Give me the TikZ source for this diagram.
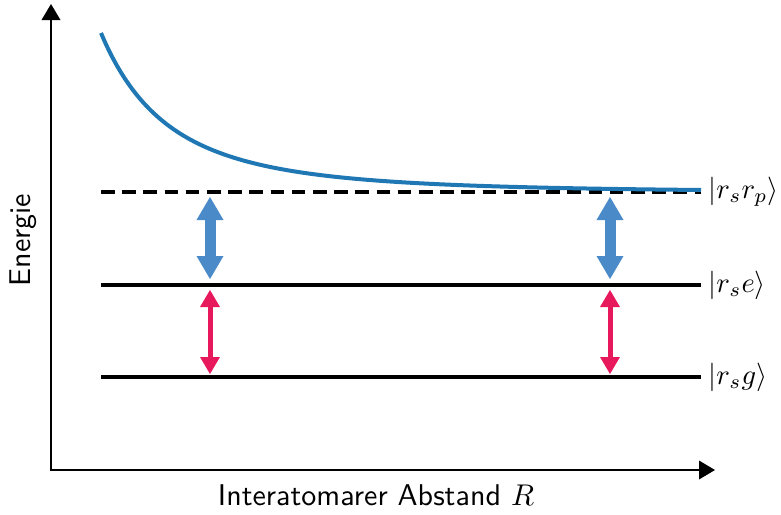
\documentclass[tikz,border=0pt]{standalone}
\usetikzlibrary{arrows.meta}
\definecolor{curveblue}{HTML}{1F77B4}
\definecolor{arrblue}{HTML}{4A8AC9}
\definecolor{arrred}{HTML}{E8185D}
\begin{document}
\begin{tikzpicture}[x=1pt,y=-1pt,
  axis/.style={line width=2pt,-{Triangle[width=19pt,length=16pt,line width=0pt]}},
  level/.style={line width=3.6pt},
  dashedlevel/.style={line width=3.6pt,dash pattern=on 13.5pt off 7.7pt},
  bigarrow/.style={arrblue,line width=11pt,{Triangle[width=27pt,length=23pt,line width=0pt]}-{Triangle[width=27pt,length=23pt,line width=0pt]}},
  smallarrow/.style={arrred,line width=5pt,{Triangle[width=20pt,length=17pt,line width=0pt]}-{Triangle[width=20pt,length=17pt,line width=0pt]}},
  lbl/.style={anchor=west,inner sep=0pt,font=\fontsize{10}{12}\selectfont,scale=2.85},
  txt/.style={font=\fontsize{10}{12}\selectfont\sffamily,inner sep=0pt,scale=3}]
\useasboundingbox (0,0) rectangle (781,514);
% axes
\coordinate (O) at (51,470);
\coordinate (Oy) at (51,471);
\coordinate (Ox) at (50,470);
\coordinate (ytip) at (51,4);
\coordinate (xtip) at (715,470);
\draw[axis] (Oy) -- (ytip);
\draw[axis] (Ox) -- (xtip);
\node[txt,rotate=90] (ylab) at (23,240) {Energie};
\node[txt] (xlab) at (376,495) {Interatomarer Abstand $R$};
% levels
\coordinate (L1a) at (101,192); \coordinate (L1b) at (701,192);
\coordinate (L2a) at (101,285); \coordinate (L2b) at (701,285);
\coordinate (L3a) at (101,377); \coordinate (L3b) at (701,377);
\draw[dashedlevel] (L1a) -- (L1b);
\draw[level] (L2a) -- (L2b);
\draw[level] (L3a) -- (L3b);
\node[lbl] (k1) at (708,192) {$|r_s r_p\rangle$};
\node[lbl] (k2) at (708,285) {$|r_s e\rangle$};
\node[lbl] (k3) at (708,377) {$|r_s g\rangle$};
% curve
\draw[curveblue,line width=4pt] plot[domain=101:701,samples=150,smooth] (\x,{192.5-159.5*(201/(\x+100))^3});
% transition arrows
\coordinate (b1t) at (210,197); \coordinate (b1b) at (210,279);
\coordinate (r1t) at (210,290); \coordinate (r1b) at (210,374);
\coordinate (b2t) at (610,197); \coordinate (b2b) at (610,279);
\coordinate (r2t) at (610,290); \coordinate (r2b) at (610,374);
\draw[bigarrow] (b1t) -- (b1b);
\draw[smallarrow] (r1t) -- (r1b);
\draw[bigarrow] (b2t) -- (b2b);
\draw[smallarrow] (r2t) -- (r2b);
\end{tikzpicture}
\end{document}
